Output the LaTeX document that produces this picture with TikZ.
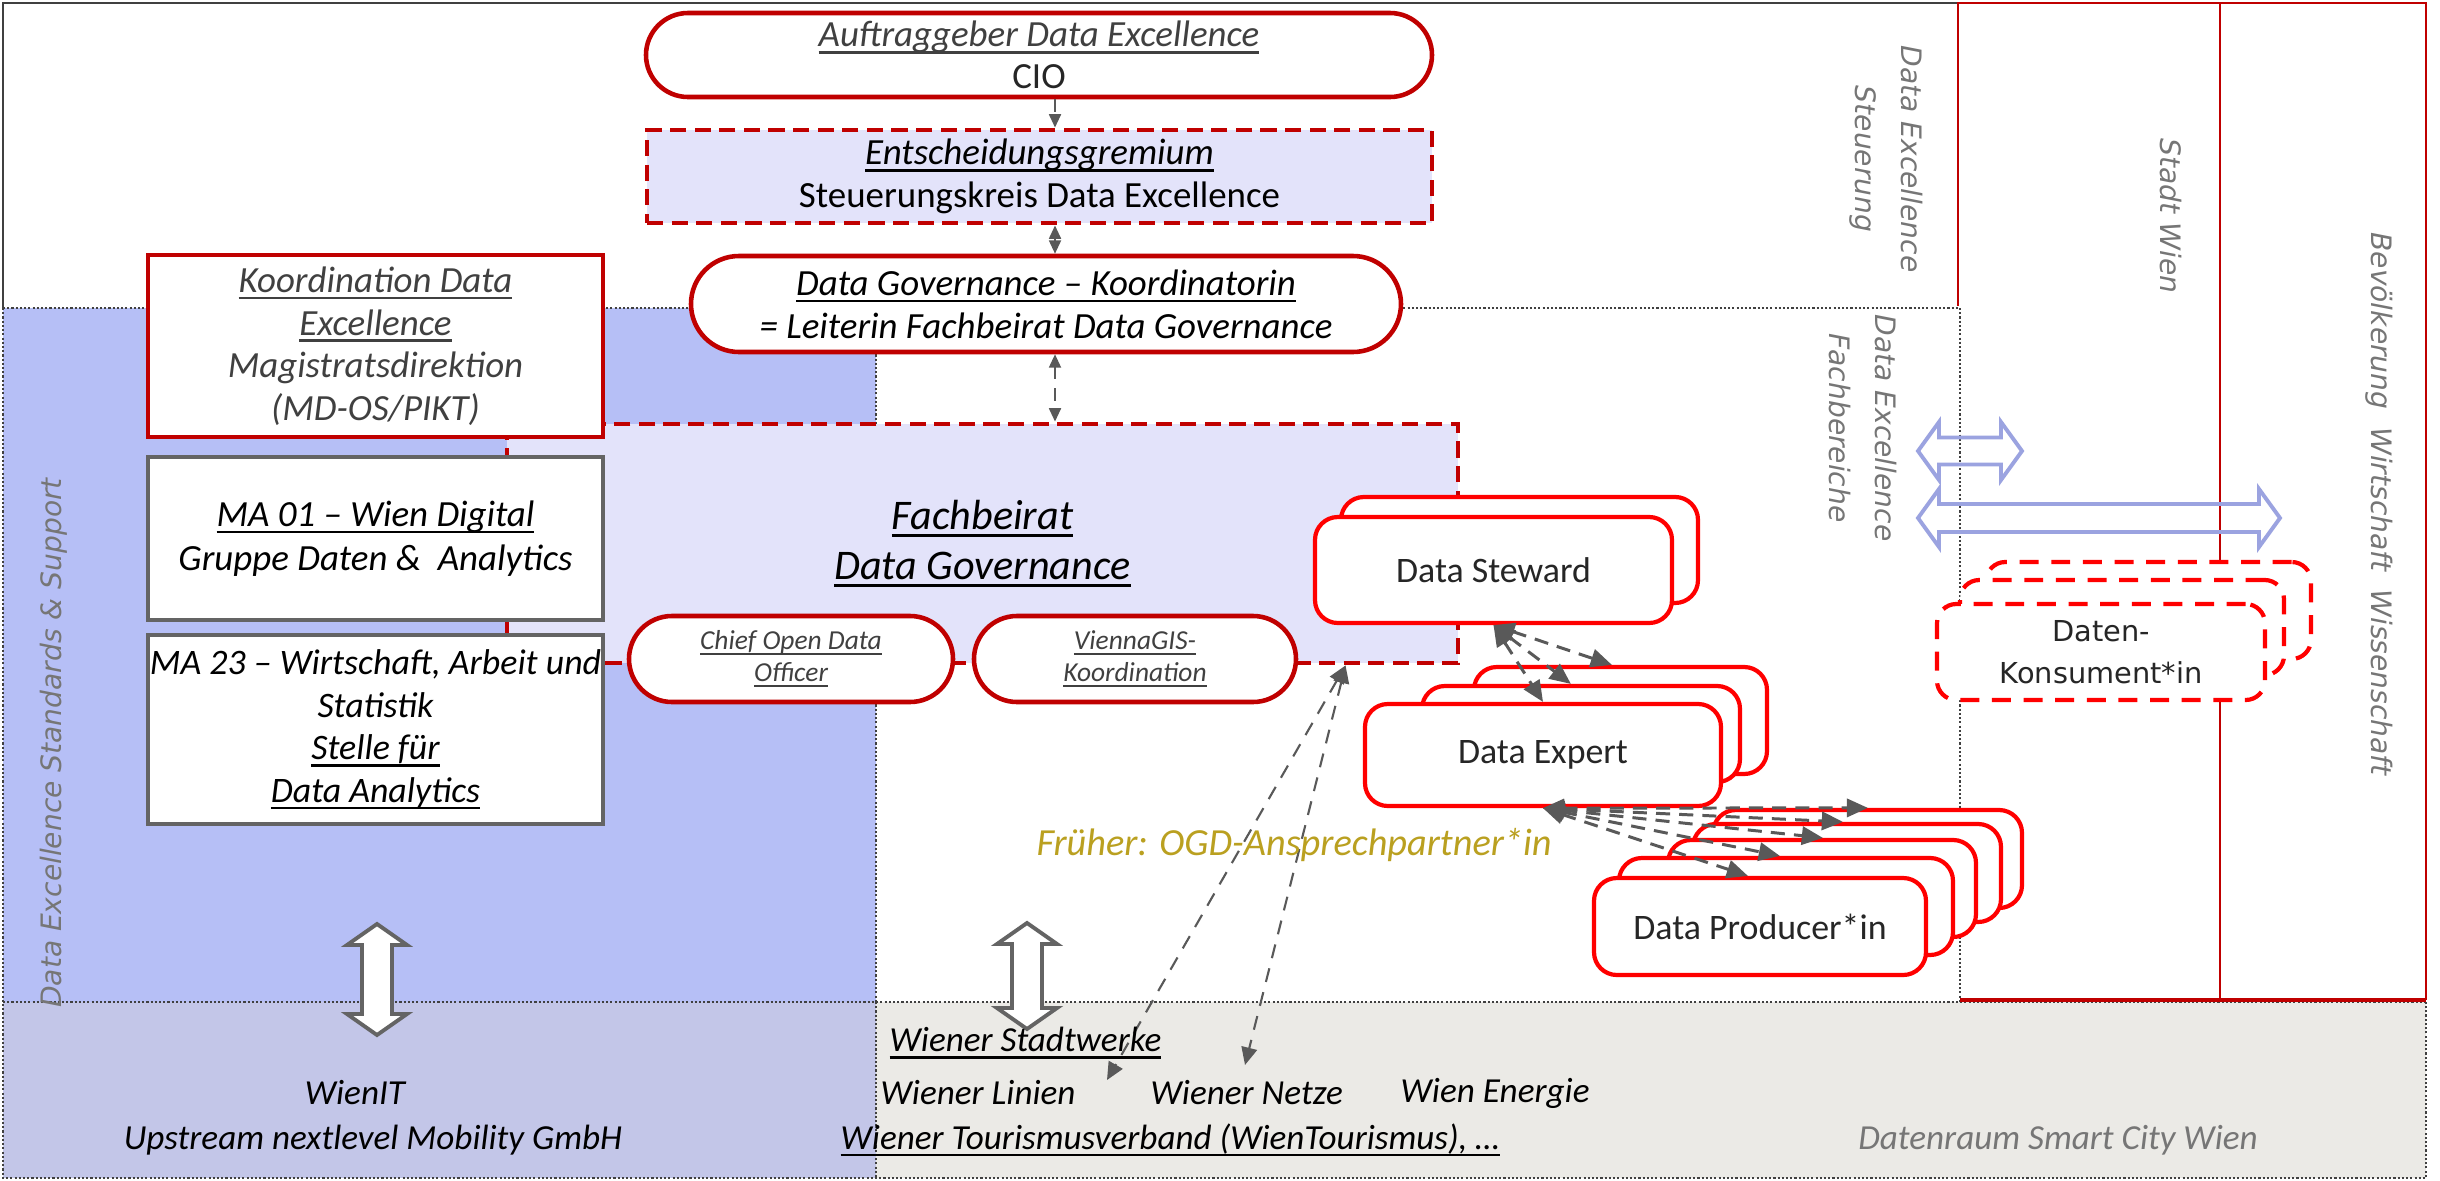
\documentclass[tikz,border=0pt]{standalone}
\usepackage{fontspec}
\setmainfont{Carlito}
\newfontfamily\dvfont{DejaVu Sans}
\usetikzlibrary{shapes.misc,arrows.meta,calc}
\definecolor{dred}{RGB}{192,0,0}
\definecolor{bred}{RGB}{255,0,0}
\definecolor{lav}{RGB}{227,227,250}
\definecolor{breg}{RGB}{182,191,246}
\definecolor{bleft}{RGB}{195,198,232}
\definecolor{bright}{RGB}{235,234,230}
\definecolor{agray}{RGB}{89,89,89}
\definecolor{bgray}{RGB}{100,100,100}
\definecolor{lblue}{RGB}{155,163,224}
\definecolor{fgold}{RGB}{186,160,32}
\definecolor{tgray}{RGB}{64,64,64}
\definecolor{lgray}{RGB}{118,118,118}
\definecolor{dtxt}{RGB}{38,38,38}
\newcommand\ulx[1]{\setbox0\hbox{#1}\leavevmode\rlap{\rule[-0.19em]{\wd0}{0.07em}}\box0}
\newcommand\fsz[2]{\fontsize{#1}{#2}\selectfont}
\tikzset{
 wh/.style 2 args={minimum width={#1*0.2845pt},minimum height={#2*0.2845pt}},
 pill/.style={rounded rectangle, draw=dred, line width=1.3pt, fill=white, inner sep=0pt, align=center},
 rbox/.style={rectangle, draw=dred, line width=1.4pt, fill=white, inner sep=0pt, align=center},
 gbox/.style={rectangle, draw=bgray, line width=1.4pt, fill=white, inner sep=0pt, align=center},
 rdash/.style={dash pattern=on 4.6pt off 2.4pt},
 stack/.style={rectangle, rounded corners=6.5pt, draw=bred, line width=1.2pt, fill=white, inner sep=0pt, align=center, font=\fsz{10.2}{12}, text=dtxt},
 kbox/.style={rectangle, rounded corners=5.5pt, draw=bred, line width=1.2pt, dash pattern=on 5.4pt off 3.6pt, fill=white, inner sep=0pt, align=center, font=\dvfont\fsz{8.2}{11.9}, text=dtxt},
 garr/.style={draw=agray, line width=0.85pt, dash pattern=on 4pt off 2.6pt, >={Triangle[length=6pt,width=5.2pt]}},
 tarr/.style={draw=agray, line width=0.55pt, dash pattern=on 3.5pt off 2.5pt, >={Triangle[length=3.8pt,width=3.4pt]}},
 larr/.style={draw=agray, line width=0.6pt, dash pattern=on 4pt off 3pt, >={Triangle[length=5pt,width=4.5pt]}},
 rlab/.style={font=\dvfont\itshape\fsz{8}{13}, text=lgray, align=center, inner sep=0pt},
 btxt/.style={font=\itshape\fsz{10}{12}, inner sep=0pt},
 dotl/.style={draw=tgray, line width=0.5pt, dash pattern=on 0.6pt off 0.6pt},
}
\begin{document}
\begin{tikzpicture}[x=0.2845pt,y=-0.2845pt]
\useasboundingbox (0,0) rectangle (2440,1181);
\fill[white] (0,0) rectangle (2440,1181);
% regions
\fill[breg] (3,308) rectangle (876,1002);
\fill[bright] (876,1002) rectangle (2426,1178);
\fill[bleft] (3,1002) rectangle (876,1178);
\draw[dotl] (3,308) -- (1958,308);
\draw[dotl] (876,308) -- (876,1002);
\draw[dotl] (1960,308) -- (1960,1002);
\draw[dotl] (3,308) -- (3,1178) -- (2426,1178) -- (2426,1002);
\draw[dotl] (3,1002) -- (2426,1002);
\draw[dotl] (876,1002) -- (876,1178);
\draw[tgray, line width=0.8pt] (3,308) -- (3,3) -- (1958,3);
\draw[dred, line width=0.6pt] (1958,306) -- (1958,3) -- (2426,3) -- (2426,1000);
\draw[dred, line width=0.6pt] (2220,3) -- (2220,1000);
\draw[dred, line width=1pt] (1960,1000) -- (2426,1000);

% Fachbeirat region
\node[rbox, rdash, fill=lav, wh={951}{239}, font=\itshape\fsz{12}{14.2}] (fb) at (982.5,543.5) {\ulx{Fachbeirat}\\\ulx{Data Governance}};

% top nodes
\node[pill, wh={786}{84}, font=\fsz{10.5}{11.8}, text=dtxt] (auf) at (1039,55) {{\color{tgray}\itshape\ulx{Auftraggeber Data Excellence}}\\CIO};
\node[rbox, rdash, fill=lav, wh={785}{93}, font=\fsz{10.5}{12.2}] (ent) at (1039.5,176.5) {{\itshape\ulx{Entscheidungsgremium}}\\Steuerungskreis Data Excellence};
\node[pill, wh={710}{96}, font=\itshape\fsz{10.5}{12.2}] (dgk) at (1046,304) {\ulx{Data Governance – Koordinatorin}\\= Leiterin Fachbeirat Data Governance};

% left boxes
\node[rbox, wh={455}{182}, font=\itshape\fsz{10.5}{12.1}, text=tgray] (koord) at (375.5,346) {\ulx{Koordination Data}\\\ulx{Excellence}\\Magistratsdirektion\\(MD-OS/PIKT)};
\node[gbox, wh={455}{163}, font=\itshape\fsz{10.5}{12.5}] (ma01) at (375.5,538.5) {\ulx{MA 01 – Wien Digital}\\Gruppe Daten \&\ \ Analytics};
\node[gbox, wh={455}{189}, font=\itshape\fsz{10.2}{12.1}] (ma23) at (375.5,729.5) {MA 23 – Wirtschaft, Arbeit und\\Statistik\\\ulx{Stelle für}\\\ulx{Data Analytics}};

% pills on Fachbeirat
\node[pill, wh={324}{86}, font=\itshape\fsz{7.8}{9.1}, text=tgray] (cod) at (791,659) {\ulx{Chief Open Data}\\\ulx{Officer}};
\node[pill, wh={322}{86}, font=\itshape\fsz{7.8}{9.1}, text=tgray] (vgis) at (1135,659) {\ulx{ViennaGIS-}\\\ulx{Koordination}};

% stacks
\node[stack, wh={357}{106}] (ds2) at (1519.5,550) {};
\node[stack, wh={357}{106}] (ds) at (1493.5,570) {Data Steward};
\node[stack, wh={293}{107}] (de3) at (1620.5,720.5) {};
\node[stack, wh={318}{96}] (de2) at (1581,734) {};
\node[stack, wh={356}{102}] (de) at (1543,755) {Data Expert};
\node[stack, wh={309}{98}] (dpA) at (1867.5,859) {};
\node[stack, wh={308}{98}] (dpB) at (1847,873) {};
\node[stack, wh={308}{97}] (dpC) at (1822,888.5) {};
\node[stack, wh={334}{97}] (dpD) at (1786,906.5) {};
\node[stack, wh={332}{97}] (dp) at (1760,926.5) {Data Producer*in};
\node[kbox, wh={325}{97}] (dk3) at (2148.5,610.5) {};
\node[kbox, wh={324}{95}] (dk2) at (2122,627.5) {};
\node[kbox, wh={328}{96}] (dk) at (2101,652) {Daten-\\Konsument*in};

% blue double arrows
\draw[lblue, line width=1.1pt, line join=miter] (1918,451) -- (1939,422) -- (1939,437.5) -- (2001,437.5) -- (2001,422) -- (2022,451) -- (2001,480) -- (2001,464.5) -- (1939,464.5) -- (1939,480) -- cycle;
\draw[lblue, line width=1.1pt, line join=miter] (1918,518) -- (1939,489) -- (1939,504) -- (2259,504) -- (2259,489) -- (2280,518) -- (2259,547) -- (2259,532) -- (1939,532) -- (1939,547) -- cycle;

% white block arrows
\draw[bgray, fill=white, line width=1.1pt, line join=miter] (377,924) -- (407,945) -- (392,945) -- (392,1014) -- (407,1014) -- (377,1035) -- (347,1014) -- (362,1014) -- (362,945) -- (347,945) -- cycle;
\draw[bgray, fill=white, line width=1.1pt, line join=miter] (1027,923) -- (1057,944) -- (1042,944) -- (1042,1008) -- (1057,1008) -- (1027,1029) -- (997,1008) -- (1012,1008) -- (1012,944) -- (997,944) -- cycle;

% top connectors
\coordinate (cx) at (1055,0);
\draw[tarr,->] (auf.south -| cx) -- (ent.north -| cx);
\draw[tarr,<->] (ent.south -| cx) -- (dgk.north -| cx);
\draw[tarr,<->] (dgk.south -| cx) -- (fb.north -| cx);

% steward -> expert
\draw[garr,<->] (ds.south) -- ($(de3.north west)+(140,0)$);
\draw[garr,<->] (ds.south) -- ($(de2.north west)+(151,0)$);
\draw[garr,<->] (ds.south) -- (de.north);

% expert -> producer
\draw[garr,<->] (de.south) -- ($(dpA.north west)+(157,0)$);
\draw[garr,<->] (de.south) -- ($(dpB.north west)+(152,0)$);
\draw[garr,<->] (de.south) -- ($(dpC.north west)+(157,0)$);
\draw[garr,<->] (de.south) -- ($(dpD.north west)+(163,0)$);
\draw[garr,<->] (de.south) -- ($(dp.north west)+(156,0)$);

% Fachbeirat -> Stadtwerke
\coordinate (sw1) at (1107,1080);
\coordinate (sw2) at (1245,1065);
\draw[larr,<->] ($(fb.south west)+(841,0)$) -- (sw1);
\draw[larr,<->] ($(fb.south west)+(841,0)$) -- (sw2);

% texts
\node[font=\itshape\fsz{10.9}{12}, text=fgold, inner sep=0pt] (fr) at (1294,845) {Früher: OGD-Ansprechpartner*in};
\node[btxt, anchor=west] (swt) at (889,1043) {\ulx{Wiener Stadtwerke}};
\node[btxt, anchor=west] (wl) at (880,1093) {Wiener Linien};
\node[btxt, anchor=west] (wn) at (1150,1093) {Wiener Netze};
\node[btxt, anchor=west] (we) at (1400,1093) {Wien Energie};
\node[btxt, anchor=west] (wt) at (840,1140) {\ulx{Wiener Tourismusverband (WienTourismus), …}};
\node[btxt] (wit) at (355,1093) {WienIT};
\node[btxt] (up) at (373,1140) {Upstream nextlevel Mobility GmbH};
\node[btxt, text=lgray] (drs) at (2058,1140) {Datenraum Smart City Wien};

% rotated labels
\node[rlab, rotate=90] (lss) at (54,743) {Data Excellence Standards \& Support};
\node[rlab, rotate=-90] (lst) at (1886,159) {Data Excellence\\Steuerung};
\node[rlab, rotate=-90] (lfb) at (1863,428) {Data Excellence\\Fachbereiche};
\node[rlab, rotate=-90] (lsw) at (2171,216) {Stadt Wien};
\node[rlab, rotate=-90] (lbv) at (2379,504) {Bevölkerung\ \ Wirtschaft\ \ Wissenschaft};
\end{tikzpicture}
\end{document}
